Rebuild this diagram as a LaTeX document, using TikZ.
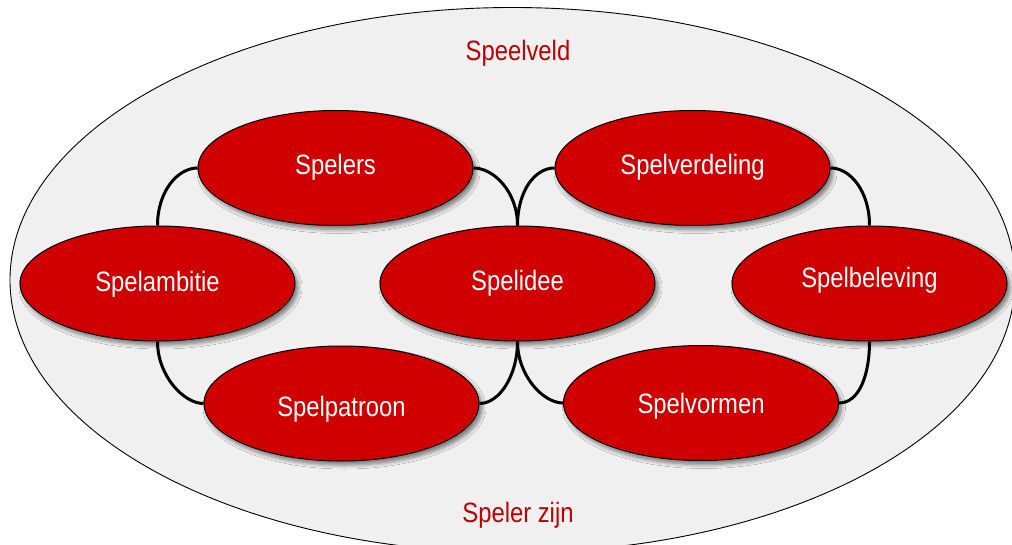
\documentclass[tikz,border=0pt]{standalone}
\usepackage{fontspec}
\setmainfont[FakeStretch=0.85]{Liberation Sans}
\usetikzlibrary{shapes.geometric,shadows.blur}
\definecolor{bubblered}{RGB}{208,0,0}
\definecolor{fieldgray}{RGB}{240,240,240}
\definecolor{labelred}{RGB}{192,0,0}
\tikzset{
  bubble/.style={ellipse, draw=black, line width=1pt, fill=bubblered,
    minimum width=275pt, minimum height=115pt, inner sep=0pt, text=white,
    text height=20pt, text depth=6pt,
    font=\fontsize{28}{30}\selectfont,
    blur shadow={shadow xshift=3pt, shadow yshift=-4pt, shadow blur steps=6, shadow blur radius=4pt, shadow opacity=50}},
  link/.style={line width=3pt, draw=black},
  fieldlabel/.style={text=labelred, font=\fontsize{28}{30}\selectfont, anchor=base, inner sep=0pt},
  fieldshape/.style={ellipse, draw=black, line width=0.9pt, fill=fieldgray,
    minimum width=1005pt, minimum height=545pt, inner sep=0pt}
}
\begin{document}
\begin{tikzpicture}[x=1pt,y=1pt]
\clip (0,0) rectangle (1012,-545);
\fill[white] (0,0) rectangle (1012,-545);
\node[fieldshape] (field) at (512.5,-280) {};
\node[fieldlabel] (veld) at (518,-61) {Speelveld};
\node[fieldlabel] (zijn) at (518,-522) {Speler zijn};

\node[bubble] (spelers) at (335.5,-168) {Spelers};
\node[bubble] (verdeling) at (692.5,-168) {Spelverdeling};
\node[bubble] (ambitie) at (157.5,-283.5) {\raisebox{-1pt}{Spelambitie}};
\node[bubble] (idee) at (517.5,-283.5) {\raisebox{-0.5pt}{Spelidee}};
\node[bubble] (beleving) at (869.5,-283.5) {\raisebox{2.5pt}{Spelbeleving}};
\node[bubble] (patroon) at (341.5,-403.5) {\raisebox{-6pt}{Spelpatroon}};
\node[bubble] (vormen) at (701,-403) {\raisebox{-3pt}{Spelvormen}};

\draw[link] (spelers.west) .. controls +(-20,0) and +(0,34) .. (ambitie.north);
\draw[link] (spelers.east) .. controls +(20,0) and +(0,34) .. (idee.north);
\draw[link] (verdeling.west) .. controls +(-20,0) and +(0,34) .. (idee.north);
\draw[link] (verdeling.east) .. controls +(20,0) and +(0,34) .. (beleving.north);
\draw[link] (ambitie.south) .. controls +(0,-34) and +(-20,0) .. (patroon.west);
\draw[link] (patroon.east) .. controls +(20,0) and +(0,-34) .. (idee.south);
\draw[link] (idee.south) .. controls +(0,-34) and +(-20,0) .. (vormen.west);
\draw[link] (beleving.south) .. controls +(0,-34) and +(20,0) .. (vormen.east);
\end{tikzpicture}
\end{document}
